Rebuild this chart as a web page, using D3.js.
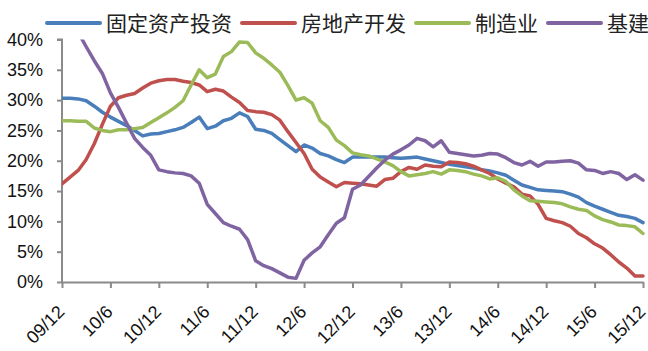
<!DOCTYPE html>
<html>
<head>
<meta charset="utf-8">
<script src="https://cdn.jsdelivr.net/npm/d3@7"></script>
<style>
  html, body { margin: 0; padding: 0; background: #fff; }
  svg { display: block; }
  .axis text { font-family: "Liberation Sans", Arial, sans-serif; font-size: 18px; fill: #111; }
  .legend text { font-family: "Noto Sans CJK SC", sans-serif; font-size: 21px; fill: #222; }
</style>
</head>
<body>
<svg id="chart" width="648" height="351"></svg>
<script>
// Monthly cumulative y/y growth (%), Dec 2009 – Dec 2015
const months = [
  "09/12",
  "10/1","10/2","10/3","10/4","10/5","10/6","10/7","10/8","10/9","10/10","10/11","10/12",
  "11/1","11/2","11/3","11/4","11/5","11/6","11/7","11/8","11/9","11/10","11/11","11/12",
  "12/1","12/2","12/3","12/4","12/5","12/6","12/7","12/8","12/9","12/10","12/11","12/12",
  "13/1","13/2","13/3","13/4","13/5","13/6","13/7","13/8","13/9","13/10","13/11","13/12",
  "14/1","14/2","14/3","14/4","14/5","14/6","14/7","14/8","14/9","14/10","14/11","14/12",
  "15/1","15/2","15/3","15/4","15/5","15/6","15/7","15/8","15/9","15/10","15/11","15/12"
];

const fixedAsset = [
  30.3, 30.3, 30.2, 29.9, 29.0, 28.0, 27.2, 26.5, 25.8, 25.0, 24.1, 24.4, 24.5,
  24.8, 25.1, 25.5, 26.3, 27.2, 25.3, 25.7, 26.6, 27.0, 27.9, 27.3, 25.2,
  25.0, 24.5, 23.5, 22.5, 21.5, 22.6, 22.1, 21.2, 20.8, 20.2, 19.7, 20.6,
  20.6, 20.6, 20.6, 20.6, 20.5, 20.4, 20.5, 20.6, 20.3, 20.0, 19.7, 19.4,
  19.2, 19.0, 18.8, 18.5, 18.3, 18.0, 17.6, 16.8, 16.0, 15.6, 15.2, 15.1,
  15.0, 14.9, 14.5, 14.0, 13.1, 12.5, 12.0, 11.5, 11.0, 10.8, 10.5, 9.8
];

const realEstate = [
  16.2, 17.3, 18.4, 20.2, 22.8, 26.0, 29.0, 30.4, 30.8, 31.1, 32.0, 32.8, 33.2,
  33.4, 33.4, 33.1, 32.9, 32.5, 31.4, 31.8, 31.5, 30.5, 29.6, 28.3, 28.1,
  28.0, 27.6, 26.7, 24.8, 23.0, 21.2, 18.6, 17.3, 16.5, 15.7, 16.4, 16.3,
  16.2, 16.0, 15.8, 16.9, 17.1, 18.2, 18.9, 18.6, 19.3, 19.1, 19.0, 19.8,
  19.7, 19.5, 19.1, 18.5, 17.9, 17.0, 16.3, 15.7, 14.5, 14.2, 12.8, 10.5,
  10.1, 9.8, 9.2, 8.0, 7.3, 6.3, 5.6, 4.5, 3.3, 2.3, 1.0, 1.0
];

const manufacturing = [
  26.6, 26.6, 26.5, 26.5, 25.4, 25.0, 24.8, 25.1, 25.1, 25.3, 25.5, 26.3, 27.1,
  27.9, 28.8, 29.9, 32.5, 35.0, 33.7, 34.3, 37.2, 38.0, 39.6, 39.5, 37.8,
  36.9, 35.8, 34.6, 32.4, 30.0, 30.4, 29.5, 26.6, 25.5, 23.4, 22.5, 21.3,
  21.0, 20.8, 20.3, 19.8, 19.2, 18.2, 17.5, 17.7, 17.9, 18.2, 17.8, 18.5,
  18.4, 18.2, 17.8, 17.5, 17.0, 17.2, 16.6, 15.2, 14.2, 13.4, 13.3, 13.2,
  13.1, 12.9, 12.4, 12.0, 11.8, 10.9, 10.3, 9.9, 9.4, 9.3, 9.1, 8.0
];

const infrastructure = [
  45.5, 43.4, 41.2, 38.8, 36.5, 34.4, 31.2, 28.8, 26.2, 23.7, 22.2, 20.9, 18.5,
  18.2, 18.0, 17.9, 17.5, 16.3, 12.8, 11.3, 9.8, 9.2, 8.7, 7.0, 3.5,
  2.7, 2.2, 1.5, 0.8, 0.6, 3.6, 4.8, 5.8, 7.8, 9.7, 10.6, 15.3,
  16.0, 17.4, 18.8, 20.1, 21.1, 21.8, 22.6, 23.7, 23.3, 22.3, 23.3, 21.4,
  21.2, 21.0, 20.8, 20.9, 21.2, 21.1, 20.5, 19.7, 19.3, 19.9, 19.1, 19.8,
  19.8, 19.9, 20.0, 19.6, 18.5, 18.4, 17.9, 18.2, 17.9, 16.9, 17.7, 16.8
];

const seriesNames = ["固定资产投资", "房地产开发", "制造业", "基建"];
const seriesValues = [fixedAsset, realEstate, manufacturing, infrastructure];
const seriesColors = ["#4a7ebb", "#c0504d", "#9bbb59", "#8064a2"];
const yTicks = [0, 5, 10, 15, 20, 25, 30, 35, 40];
const xTickLabels = ["09/12","10/6","10/12","11/6","11/12","12/6","12/12","13/6","13/12","14/6","14/12","15/6","15/12"];

const svg = d3.select("#chart");
const plot = { left: 62, right: 643, top: 39.5, bottom: 282 };

const x = d3.scalePoint().domain(months).range([plot.left, plot.right]);
const y = d3.scaleLinear().domain([0, 40]).range([plot.bottom, plot.top]);

svg.append("defs").append("clipPath").attr("id", "plot-clip")
  .append("rect")
  .attr("x", plot.left).attr("y", plot.top)
  .attr("width", plot.right - plot.left + 6)
  .attr("height", plot.bottom - plot.top);

// axes
const axisColor = "#8a8a8a";
const yAxis = svg.append("g").attr("class", "axis")
  .attr("transform", `translate(${plot.left},0)`)
  .call(d3.axisLeft(y).tickValues(yTicks).tickSize(5).tickPadding(14).tickFormat(d => d + "%"));
const xAxis = svg.append("g").attr("class", "axis")
  .attr("transform", `translate(0,${plot.bottom})`)
  .call(d3.axisBottom(x).tickValues(xTickLabels).tickSize(6).tickSizeOuter(0));

[yAxis, xAxis].forEach(g => {
  g.select(".domain").attr("stroke", axisColor).attr("stroke-width", 2);
  g.selectAll(".tick line").attr("stroke", axisColor).attr("stroke-width", 2);
});
yAxis.select(".domain").attr("d", `M-5,${plot.top}H0V${plot.bottom}`);

xAxis.selectAll(".tick text")
  .attr("text-anchor", "end")
  .attr("dy", "0")
  .attr("y", 0)
  .attr("transform", "translate(3,31) rotate(-45)");

// series lines
const line = d3.line()
  .x((d, i) => x(months[i]))
  .y(d => y(d));

const lines = svg.append("g").attr("clip-path", "url(#plot-clip)");
seriesValues.forEach((vals, k) => {
  lines.append("path")
    .datum(vals)
    .attr("fill", "none")
    .attr("stroke", seriesColors[k])
    .attr("stroke-width", 3.5)
    .attr("stroke-linejoin", "round")
    .attr("stroke-linecap", "round")
    .attr("d", line);
});

// legend
const legend = svg.append("g").attr("class", "legend");
let lx = 47;
seriesNames.forEach((name, k) => {
  legend.append("line")
    .attr("x1", lx).attr("x2", lx + 53)
    .attr("y1", 23).attr("y2", 23)
    .attr("stroke", seriesColors[k])
    .attr("stroke-width", 4)
    .attr("stroke-linecap", "round");
  const t = legend.append("text")
    .attr("x", lx + 59).attr("y", 23)
    .attr("dy", "0.36em")
    .text(name);
  lx = lx + 59 + t.node().getComputedTextLength() + 10;
});
</script>
</body>
</html>
